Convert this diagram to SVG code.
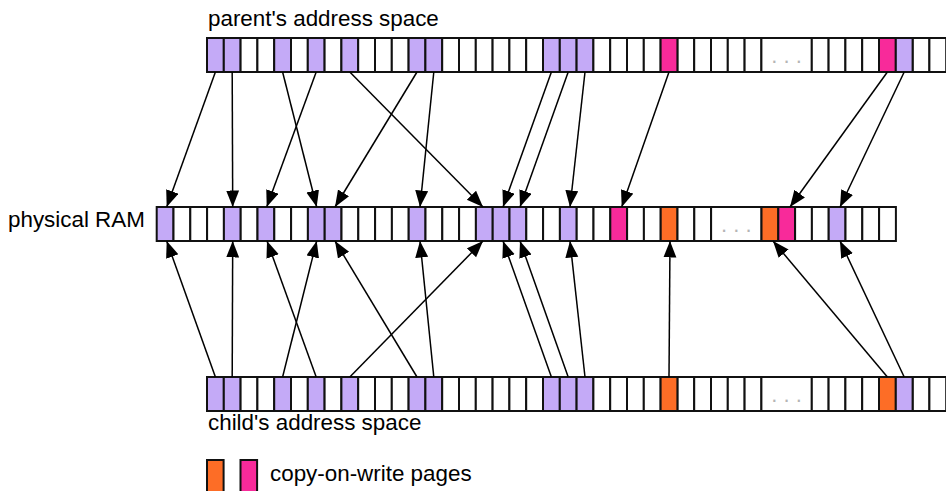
<svg xmlns="http://www.w3.org/2000/svg" width="946" height="491" viewBox="0 0 946 491">
<style>
rect{stroke:#111;stroke-width:2}
.w{fill:#fff}.p{fill:#c4aaf7}.k{fill:#f82a9a}.o{fill:#fd6d26}
text{font-family:"Liberation Sans",Arial,sans-serif;font-size:22.4px;fill:#000}
.dots{fill:#b5b5b5;text-anchor:middle;font-size:22px}
.a{stroke:#000;stroke-width:1.5;fill:none;marker-end:url(#ah)}
</style>
<defs>
<marker id="ah" markerUnits="userSpaceOnUse" markerWidth="18" markerHeight="14" refX="16.5" refY="6.5" orient="auto"><path d="M0,0 L16.5,6.5 L0,13 z" fill="#000"/></marker>
<g id="top-cells">
<rect x="0" y="0" width="16.8" height="34" class="p"/>
<rect x="16.8" y="0" width="16.8" height="34" class="p"/>
<rect x="33.6" y="0" width="16.8" height="34" class="w"/>
<rect x="50.4" y="0" width="16.8" height="34" class="w"/>
<rect x="67.2" y="0" width="16.8" height="34" class="p"/>
<rect x="84" y="0" width="16.8" height="34" class="w"/>
<rect x="100.8" y="0" width="16.8" height="34" class="p"/>
<rect x="117.6" y="0" width="16.8" height="34" class="w"/>
<rect x="134.4" y="0" width="16.8" height="34" class="p"/>
<rect x="151.2" y="0" width="16.8" height="34" class="w"/>
<rect x="168" y="0" width="16.8" height="34" class="w"/>
<rect x="184.8" y="0" width="16.8" height="34" class="w"/>
<rect x="201.6" y="0" width="16.8" height="34" class="p"/>
<rect x="218.4" y="0" width="16.8" height="34" class="p"/>
<rect x="235.2" y="0" width="16.8" height="34" class="w"/>
<rect x="252" y="0" width="16.8" height="34" class="w"/>
<rect x="268.8" y="0" width="16.8" height="34" class="w"/>
<rect x="285.6" y="0" width="16.8" height="34" class="w"/>
<rect x="302.4" y="0" width="16.8" height="34" class="w"/>
<rect x="319.2" y="0" width="16.8" height="34" class="w"/>
<rect x="336" y="0" width="16.8" height="34" class="p"/>
<rect x="352.8" y="0" width="16.8" height="34" class="p"/>
<rect x="369.6" y="0" width="16.8" height="34" class="p"/>
<rect x="386.4" y="0" width="16.8" height="34" class="w"/>
<rect x="403.2" y="0" width="16.8" height="34" class="w"/>
<rect x="420" y="0" width="16.8" height="34" class="w"/>
<rect x="436.8" y="0" width="16.8" height="34" class="w"/>
<rect x="470.4" y="0" width="16.8" height="34" class="w"/>
<rect x="487.2" y="0" width="16.8" height="34" class="w"/>
<rect x="504" y="0" width="16.8" height="34" class="w"/>
<rect x="520.8" y="0" width="16.8" height="34" class="w"/>
<rect x="537.6" y="0" width="16.8" height="34" class="w"/>
<rect x="554.4" y="0" width="50.4" height="34" class="w"/>
<rect x="604.8" y="0" width="16.8" height="34" class="w"/>
<rect x="621.6" y="0" width="16.8" height="34" class="w"/>
<rect x="638.4" y="0" width="16.8" height="34" class="w"/>
<rect x="655.2" y="0" width="16.8" height="34" class="w"/>
<rect x="705.6" y="0" width="16.8" height="34" class="w"/>
<rect x="722.4" y="0" width="16.8" height="34" class="w"/>
</g>
</defs>

<g id="parent-space">
<text x="208" y="26">parent's address space</text>
<use href="#top-cells" x="207" y="38"/>
<rect x="660.6" y="38" width="16.8" height="34" class="k"/>
<rect x="879" y="38" width="16.8" height="34" class="k"/>
<rect x="895.8" y="38" width="16.8" height="34" class="p"/>
<text x="786.6" y="63" class="dots">. . .</text>
</g>

<g id="physical-ram">
<text x="8" y="227">physical RAM</text>
<rect x="156.7" y="207" width="16.8" height="34" class="p"/>
<rect x="173.5" y="207" width="16.8" height="34" class="w"/>
<rect x="190.3" y="207" width="16.8" height="34" class="w"/>
<rect x="207.1" y="207" width="16.8" height="34" class="w"/>
<rect x="223.9" y="207" width="16.8" height="34" class="p"/>
<rect x="240.7" y="207" width="16.8" height="34" class="w"/>
<rect x="257.5" y="207" width="16.8" height="34" class="p"/>
<rect x="274.3" y="207" width="16.8" height="34" class="w"/>
<rect x="291.1" y="207" width="16.8" height="34" class="w"/>
<rect x="307.9" y="207" width="16.8" height="34" class="p"/>
<rect x="324.7" y="207" width="16.8" height="34" class="p"/>
<rect x="341.5" y="207" width="16.8" height="34" class="w"/>
<rect x="358.3" y="207" width="16.8" height="34" class="w"/>
<rect x="375.1" y="207" width="16.8" height="34" class="w"/>
<rect x="391.9" y="207" width="16.8" height="34" class="w"/>
<rect x="408.7" y="207" width="16.8" height="34" class="p"/>
<rect x="425.5" y="207" width="16.8" height="34" class="w"/>
<rect x="442.3" y="207" width="16.8" height="34" class="w"/>
<rect x="459.1" y="207" width="16.8" height="34" class="w"/>
<rect x="475.9" y="207" width="16.8" height="34" class="p"/>
<rect x="492.7" y="207" width="16.8" height="34" class="p"/>
<rect x="509.5" y="207" width="16.8" height="34" class="p"/>
<rect x="526.3" y="207" width="16.8" height="34" class="w"/>
<rect x="543.1" y="207" width="16.8" height="34" class="w"/>
<rect x="559.9" y="207" width="16.8" height="34" class="p"/>
<rect x="576.7" y="207" width="16.8" height="34" class="w"/>
<rect x="593.5" y="207" width="16.8" height="34" class="w"/>
<rect x="610.3" y="207" width="16.8" height="34" class="k"/>
<rect x="627.1" y="207" width="16.8" height="34" class="w"/>
<rect x="643.9" y="207" width="16.8" height="34" class="w"/>
<rect x="660.7" y="207" width="16.8" height="34" class="o"/>
<rect x="677.5" y="207" width="16.8" height="34" class="w"/>
<rect x="694.3" y="207" width="16.8" height="34" class="w"/>
<rect x="711.1" y="207" width="50.4" height="34" class="w"/>
<rect x="761.5" y="207" width="16.8" height="34" class="o"/>
<rect x="778.3" y="207" width="16.8" height="34" class="k"/>
<rect x="795.1" y="207" width="16.8" height="34" class="w"/>
<rect x="811.9" y="207" width="16.8" height="34" class="w"/>
<rect x="828.7" y="207" width="16.8" height="34" class="p"/>
<rect x="845.5" y="207" width="16.8" height="34" class="w"/>
<rect x="862.3" y="207" width="16.8" height="34" class="w"/>
<rect x="879.1" y="207" width="16.8" height="34" class="w"/>
<text x="736.3" y="232" class="dots">. . .</text>
</g>

<g id="child-space">
<text x="208" y="430">child's address space</text>
<use href="#top-cells" x="207" y="377"/>
<rect x="660.6" y="377" width="16.8" height="34" class="o"/>
<rect x="879" y="377" width="16.8" height="34" class="o"/>
<rect x="895.8" y="377" width="16.8" height="34" class="p"/>
<text x="786.6" y="402" class="dots">. . .</text>
</g>

<g id="legend">
<rect x="207" y="460" width="16.6" height="34" class="o"/>
<rect x="240.5" y="460" width="16.6" height="34" class="k"/>
<text x="270" y="481">copy-on-write pages</text>
</g>

<g id="connectors">
<line class="a" x1="215.4" y1="72" x2="166.7" y2="207"/>
<line class="a" x1="232.2" y1="72" x2="232.7" y2="207"/>
<line class="a" x1="282.6" y1="72" x2="316.7" y2="207"/>
<line class="a" x1="316.2" y1="72" x2="266.7" y2="207"/>
<line class="a" x1="349.8" y1="72" x2="483" y2="207"/>
<line class="a" x1="417" y1="72" x2="335" y2="207"/>
<line class="a" x1="433.8" y1="72" x2="420" y2="207"/>
<line class="a" x1="551.4" y1="72" x2="503" y2="207"/>
<line class="a" x1="568.2" y1="72" x2="520" y2="207"/>
<line class="a" x1="585" y1="72" x2="570" y2="207"/>
<line class="a" x1="669" y1="72" x2="621.7" y2="207"/>
<line class="a" x1="887.4" y1="72" x2="790" y2="207"/>
<line class="a" x1="904.2" y1="72" x2="840" y2="207"/>
<line class="a" x1="215.4" y1="377" x2="166.7" y2="241"/>
<line class="a" x1="232.2" y1="377" x2="232.7" y2="241"/>
<line class="a" x1="316.2" y1="377" x2="267" y2="241"/>
<line class="a" x1="282.6" y1="377" x2="316.7" y2="241"/>
<line class="a" x1="417" y1="377" x2="335" y2="241"/>
<line class="a" x1="433.8" y1="377" x2="420" y2="241"/>
<line class="a" x1="349.8" y1="377" x2="483" y2="241"/>
<line class="a" x1="551.4" y1="377" x2="503" y2="241"/>
<line class="a" x1="568.2" y1="377" x2="520" y2="241"/>
<line class="a" x1="585" y1="377" x2="570" y2="241"/>
<line class="a" x1="669" y1="377" x2="670" y2="241"/>
<line class="a" x1="887.4" y1="377" x2="773" y2="241"/>
<line class="a" x1="904.2" y1="377" x2="840" y2="241"/>
</g>
</svg>
